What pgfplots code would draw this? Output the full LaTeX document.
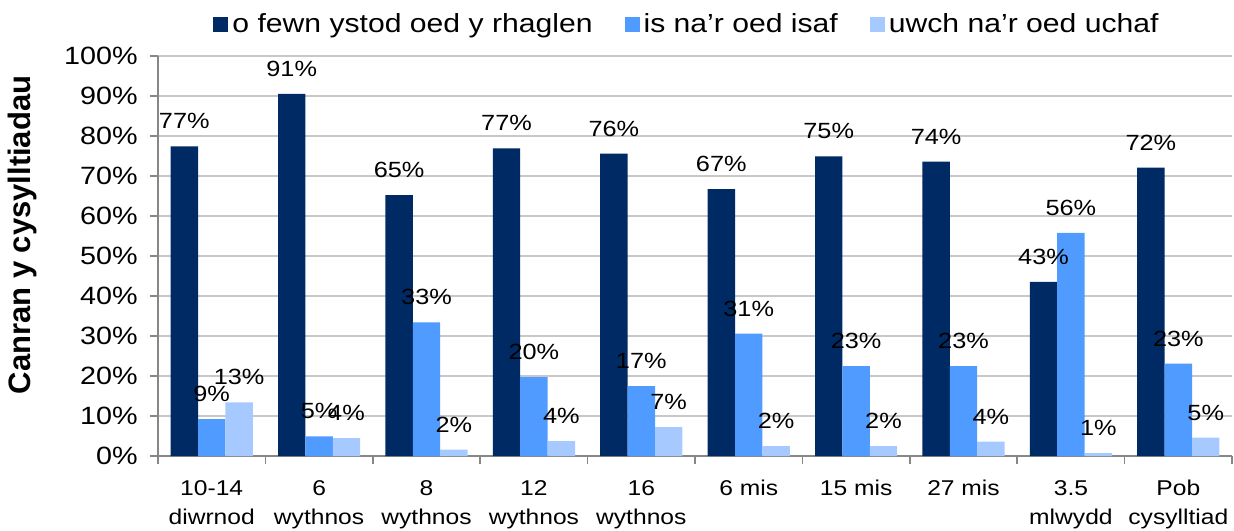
\documentclass[border=0pt]{standalone}
\usepackage{fontspec}
\setmainfont{Liberation Sans}[FakeStretch=1.15]
\newfontfamily\ylfont{Liberation Sans}
\usepackage{pgfplots}
\pgfplotsset{compat=1.18}
\definecolor{c1}{RGB}{0,42,100}
\definecolor{c2}{RGB}{80,155,255}
\definecolor{c3}{RGB}{166,202,255}
\definecolor{gridc}{RGB}{200,200,200}
\definecolor{axc}{RGB}{135,135,135}
\begin{document}
\begin{tikzpicture}
\useasboundingbox (-79pt,-37pt) rectangle (538pt,228pt);
\begin{axis}[
  at={(0pt,0pt)}, anchor=south west,
  scale only axis, width=537pt, height=200pt,
  /pgf/number format/assume math mode=true,
  ybar=0pt, bar width=13.7pt,
  xmin=-0.5, xmax=9.5, ymin=0, ymax=100,
  axis x line*=bottom, axis y line*=left,
  axis line style={draw=axc, line width=0.8pt},
  xtick={0,...,9},
  xticklabels={10-14\\diwrnod,6\\wythnos,8\\wythnos,12\\wythnos,16\\wythnos,6 mis,15 mis,27 mis,3.5\\mlwydd,Pob\\cysylltiad},
  xticklabel style={align=center, font=\fontsize{10.7}{14.5}\selectfont, anchor=north, inner sep=0pt, yshift=-8pt},
  major x tick style={draw=none},
  minor xtick={-0.5,0.5,...,9.5},
  minor x tick style={draw=axc, line width=0.8pt},
  minor tick length=4pt,
  ytick={0,10,...,100},
  yticklabel={\pgfmathprintnumber{\tick}\%},
  yticklabel style={font=\fontsize{12.5}{14}\selectfont, anchor=east, inner sep=0pt, xshift=-6pt},
  major y tick style={draw=axc, line width=0.8pt},
  major tick length=4pt,
  tick align=outside,
  ymajorgrids, grid style={draw=gridc, line width=0.8pt},
  ylabel={\ylfont\bfseries Canran y cysylltiadau},
  ylabel style={font=\fontsize{15.5}{17}\selectfont, at={(axis description cs:-0.1264,0.5525)}, anchor=center},
  point meta=explicit symbolic,
  nodes near coords={\pgfplotspointmeta},
  every node near coord/.append style={font=\fontsize{11}{13}\selectfont, anchor=center, yshift=12.5pt, text=black},
  legend style={at={(0.4935,1)}, anchor=center, yshift=15.5pt, draw=none, fill=none,
    legend columns=3, font=\fontsize{13.1}{14}\selectfont, inner sep=0pt,
    /tikz/every even column/.append style={column sep=14pt}},
  legend image code/.code={\fill[#1] (0pt,-3.7pt) rectangle (7.5pt,3.8pt);},
]
\addplot[fill=c1, draw=none] coordinates {
 (0,77.4) [77\%] (1,90.5) [91\%] (2,65.2) [65\%] (3,76.9) [77\%] (4,75.6) [76\%]
 (5,66.7) [67\%] (6,74.9) [75\%] (7,73.6) [74\%] (8,43.5) [43\%] (9,72.1) [72\%]};
\addplot[fill=c2, draw=none] coordinates {
 (0,9.2) [9\%] (1,4.9) [5\%] (2,33.4) [33\%] (3,19.7) [20\%] (4,17.5) [17\%]
 (5,30.6) [31\%] (6,22.5) [23\%] (7,22.5) [23\%] (8,55.8) [56\%] (9,23.1) [23\%]};
\addplot[fill=c3, draw=none] coordinates {
 (0,13.4) [13\%] (1,4.5) [4\%] (2,1.6) [2\%] (3,3.7) [4\%] (4,7.2) [7\%]
 (5,2.5) [2\%] (6,2.5) [2\%] (7,3.6) [4\%] (8,0.7) [1\%] (9,4.6) [5\%]};
\legend{o fewn ystod oed y rhaglen, is na'r oed isaf, uwch na'r oed uchaf}
\end{axis}
\end{tikzpicture}
\end{document}
